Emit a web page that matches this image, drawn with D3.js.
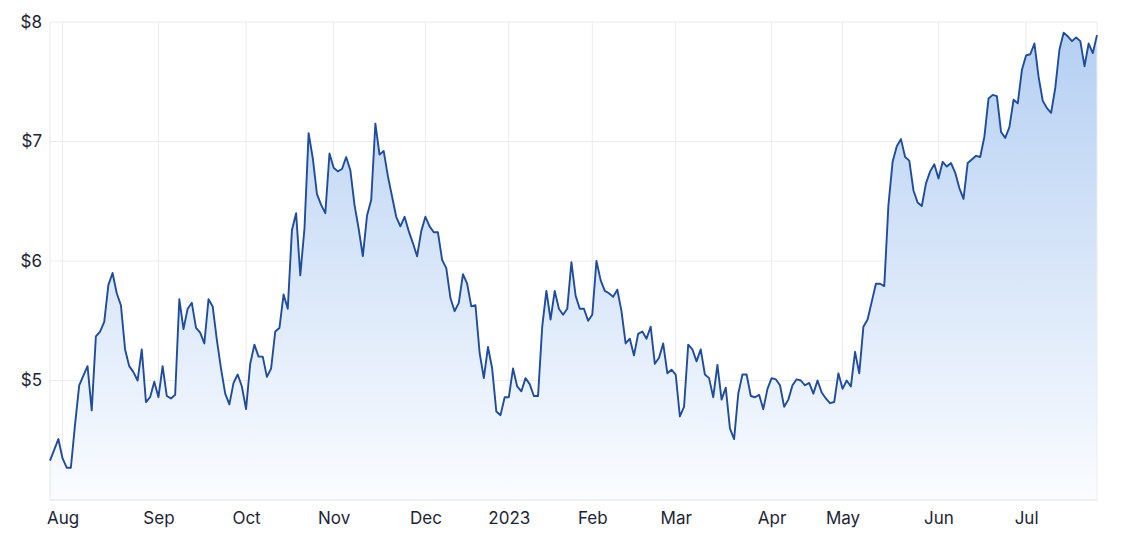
<!DOCTYPE html>
<html>
<head>
<meta charset="utf-8">
<script src="https://cdn.jsdelivr.net/npm/d3@7"></script>
<style>
  html, body { margin: 0; padding: 0; background: #fff; }
  #chart { width: 1131px; height: 545px; }
  .axis text { font-family: Inter, "Open Sans", sans-serif; font-size: 17px; fill: #1d2436; }
</style>
</head>
<body>
<div id="chart"></div>
<script>
// Cotización diaria (sesiones de bolsa, 27 jul 2022 - 26 jul 2023)
const prices = [
  4.33, 4.42, 4.51, 4.35, 4.27, 4.27, 4.63, 4.96, 5.04, 5.12,
  4.75, 5.37, 5.41, 5.49, 5.80, 5.90, 5.73, 5.63, 5.26, 5.12,
  5.07, 5.00, 5.26, 4.82, 4.86, 4.99, 4.86, 5.12, 4.87, 4.85,
  4.88, 5.68, 5.43, 5.60, 5.65, 5.44, 5.40, 5.31, 5.68, 5.62,
  5.34, 5.10, 4.89, 4.80, 4.98, 5.05, 4.95, 4.76, 5.14, 5.30,
  5.20, 5.20, 5.03, 5.10, 5.41, 5.44, 5.72, 5.60, 6.26, 6.40,
  5.88, 6.27, 7.07, 6.86, 6.56, 6.47, 6.40, 6.90, 6.78, 6.75,
  6.77, 6.87, 6.76, 6.47, 6.27, 6.04, 6.38, 6.51, 7.15, 6.89,
  6.92, 6.71, 6.54, 6.37, 6.29, 6.37, 6.25, 6.15, 6.04, 6.25,
  6.37, 6.29, 6.24, 6.24, 6.01, 5.94, 5.69, 5.58, 5.65, 5.89,
  5.81, 5.62, 5.63, 5.23, 5.02, 5.28, 5.10, 4.74, 4.71, 4.86,
  4.86, 5.10, 4.95, 4.91, 5.02, 4.97, 4.87, 4.87, 5.45, 5.75,
  5.51, 5.75, 5.60, 5.55, 5.60, 5.99, 5.71, 5.60, 5.60, 5.50,
  5.55, 6.00, 5.84, 5.75, 5.73, 5.70, 5.76, 5.58, 5.31, 5.35,
  5.21, 5.39, 5.41, 5.35, 5.45, 5.14, 5.19, 5.31, 5.06, 5.09,
  5.05, 4.70, 4.78, 5.30, 5.26, 5.16, 5.26, 5.05, 5.02, 4.86,
  5.13, 4.84, 4.94, 4.60, 4.51, 4.89, 5.05, 5.05, 4.87, 4.86,
  4.88, 4.76, 4.93, 5.02, 5.01, 4.96, 4.78, 4.84, 4.96, 5.01,
  5.00, 4.96, 4.98, 4.89, 5.00, 4.90, 4.85, 4.81, 4.82, 5.06,
  4.93, 5.00, 4.95, 5.24, 5.06, 5.45, 5.51, 5.66, 5.81, 5.81,
  5.79, 6.47, 6.83, 6.96, 7.02, 6.87, 6.84, 6.59, 6.49, 6.46,
  6.65, 6.75, 6.81, 6.69, 6.83, 6.79, 6.82, 6.74, 6.61, 6.52,
  6.82, 6.85, 6.88, 6.87, 7.04, 7.36, 7.39, 7.38, 7.08, 7.03,
  7.12, 7.35, 7.32, 7.60, 7.72, 7.73, 7.82, 7.54, 7.34, 7.28,
  7.24, 7.45, 7.77, 7.91, 7.88, 7.84, 7.87, 7.84, 7.63, 7.82,
  7.74, 7.89
];

// Primera sesión de cada mes (índice en prices)
const monthStartIdx = [3, 26, 47, 68, 90, 110, 130, 150, 173, 190, 213, 234];
const monthLabels = ['Aug', 'Sep', 'Oct', 'Nov', 'Dec', '2023', 'Feb', 'Mar', 'Apr', 'May', 'Jun', 'Jul'];

const yTicks = [5, 6, 7, 8];

let margin = {top: 22, right: 34, bottom: 45, left: 50},
    width = 1131 - margin.left - margin.right,
    height = 545 - margin.top - margin.bottom;

let svg = d3.select('#chart')
    .append('svg')
      .attr('width', width + margin.left + margin.right)
      .attr('height', height + margin.top + margin.bottom)
    .append('g')
      .attr('transform', 'translate(' + margin.left + ',' + margin.top + ')');

let x = d3.scaleLinear()
    .domain([0, prices.length - 1])
    .range([0, width]);

let y = d3.scaleLinear()
    .domain([4, 8])
    .range([height, 0]);

//Degradado del área
let grad = svg.append('defs').append('linearGradient')
    .attr('id', 'areaGrad')
    .attr('gradientUnits', 'userSpaceOnUse')
    .attr('x1', 0).attr('x2', 0)
    .attr('y1', 0).attr('y2', height);
grad.append('stop').attr('offset', '0%').attr('stop-color', '#b4cff2');
grad.append('stop').attr('offset', '100%').attr('stop-color', '#fafcff');

//Rejilla
svg.append('g')
    .selectAll('line')
    .data(monthStartIdx)
    .enter()
    .append('line')
      .attr('x1', d => x(d)).attr('x2', d => x(d))
      .attr('y1', 0).attr('y2', height)
      .attr('stroke', '#ececef').attr('stroke-width', 1);

svg.append('g')
    .selectAll('line')
    .data(yTicks)
    .enter()
    .append('line')
      .attr('x1', 0).attr('x2', width)
      .attr('y1', d => y(d)).attr('y2', d => y(d))
      .attr('stroke', '#ececef').attr('stroke-width', 1);

//Área y línea
let area = d3.area()
    .x((d, i) => x(i))
    .y0(height)
    .y1(d => y(d));

let line = d3.line()
    .x((d, i) => x(i))
    .y(d => y(d));

svg.append('path')
    .datum(prices)
    .attr('fill', 'url(#areaGrad)')
    .attr('d', area);

//Borde del gráfico
svg.append('line').attr('x1', 0).attr('x2', 0).attr('y1', 0).attr('y2', height).attr('stroke', '#e6e6ea');
svg.append('line').attr('x1', width).attr('x2', width).attr('y1', 0).attr('y2', height).attr('stroke', '#ececef');
svg.append('line').attr('x1', 0).attr('x2', width).attr('y1', height).attr('y2', height).attr('stroke', '#e2e2e6');

svg.append('path')
    .datum(prices)
    .attr('fill', 'none')
    .attr('stroke', '#1f4c9c')
    .attr('stroke-width', 1.9)
    .attr('stroke-linejoin', 'round')
    .attr('d', line);

//Ejes
let xAxis = svg.append('g')
    .attr('class', 'axis')
    .attr('transform', 'translate(0,' + height + ')')
    .call(d3.axisBottom(x).tickValues(monthStartIdx).tickFormat((d, i) => monthLabels[i]).tickSize(0).tickPadding(12));
xAxis.select('.domain').remove();

let yAxis = svg.append('g')
    .attr('class', 'axis')
    .call(d3.axisLeft(y).tickValues(yTicks).tickFormat(d => '$' + d).tickSize(0).tickPadding(8));
yAxis.select('.domain').remove();
</script>
</body>
</html>
